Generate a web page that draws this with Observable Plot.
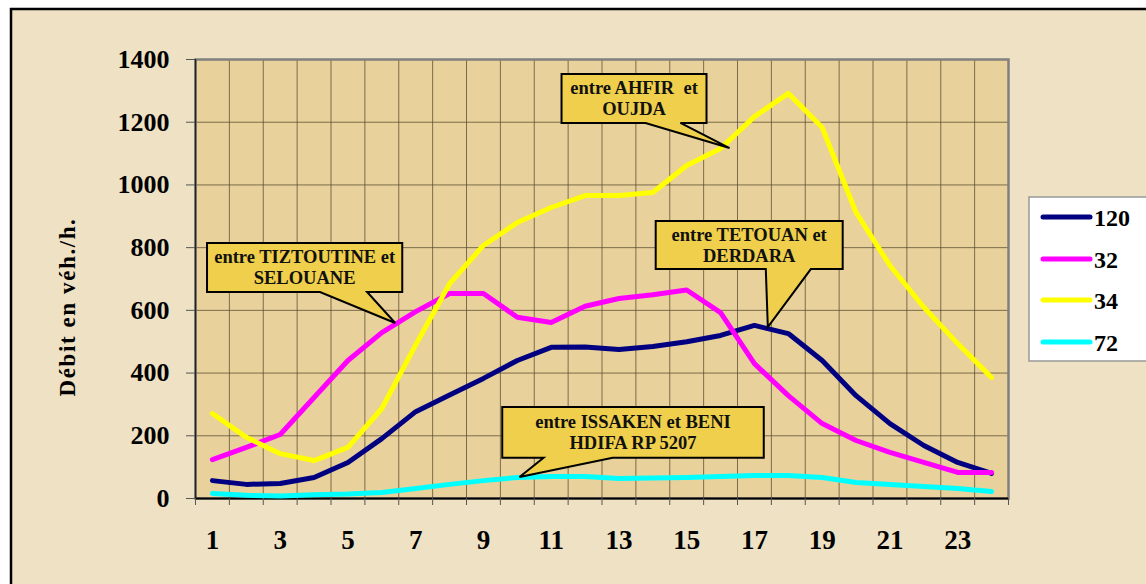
<!DOCTYPE html>
<html><head><meta charset="utf-8">
<script src="https://cdn.jsdelivr.net/npm/d3@7"></script>
<script src="https://cdn.jsdelivr.net/npm/@observablehq/plot@0.6"></script>
<style>
html,body{margin:0;padding:0;background:#fff;}
#chart svg{display:block;}
</style>
</head><body><div id="chart"></div>
<script>
// ---- data ----
const hours = [1,2,3,4,5,6,7,8,9,10,11,12,13,14,15,16,17,18,19,20,21,22,23,24];
const seriesNames = ["120","32","34","72"];
const seriesColors = ["#000080","#FF00FF","#FFFF00","#00FFFF"];
const v120 = [57,45,48,67,115,191,277,330,383,440,482,483,475,485,500,520,552,526,440,328,239,169,115,80];
const v32  = [124,163,204,322,440,529,596,654,654,578,561,613,638,650,665,593,430,328,239,185,147,115,83,83];
const v34  = [271,195,143,121,163,287,490,685,807,880,928,966,966,976,1062,1116,1218,1292,1183,912,743,610,494,386];
const v72  = [16,10,8,12,14,19,32,45,57,67,70,70,64,65,67,70,73,73,67,51,45,38,32,22];
const yTicks = [0,200,400,600,800,1000,1200,1400];
const xTickLabels = [1,3,5,7,9,11,13,15,17,19,21,23];
const yTitle = "Débit en véh./h.";
const calloutTexts = [
  ["entre TIZTOUTINE et","SELOUANE"],
  ["entre AHFIR  et","OUJDA"],
  ["entre TETOUAN et","DERDARA"],
  ["entre ISSAKEN et BENI","HDIFA RP 5207"]
];

// ---- build table ----
const allValues = [v120, v32, v34, v72];
const data = seriesNames.flatMap((s, j) => hours.map((h, i) => ({hour: h, value: allValues[j][i], series: s})));
const boundaries = [...hours.map(h => h - 0.5), hours[hours.length - 1] + 0.5];

const W = 1146, H = 584;
const serif = "'Liberation Serif','Times New Roman',serif";
const gridColor = "#55492f";

const plot = Plot.plot({
  width: W, height: H,
  marginLeft: 195, marginRight: 138, marginTop: 59, marginBottom: 86,
  x: {domain: [0.5, 24.5], axis: null},
  y: {domain: [0, 1400], axis: null},
  color: {domain: seriesNames, range: seriesColors},
  style: {background: "transparent", fontFamily: serif, color: "#000"},
  marks: [
    Plot.frame({fill: "#E8D19B", stroke: null}),
    Plot.ruleX(boundaries.slice(1, -1), {stroke: gridColor, strokeOpacity: 0.75, strokeWidth: 1}),
    Plot.ruleY(yTicks.slice(1, -1), {stroke: gridColor, strokeOpacity: 0.75, strokeWidth: 1}),
    Plot.frame({stroke: "#808080", strokeWidth: 2.5}),
    Plot.ruleX([0.5], {stroke: "#222", strokeWidth: 1.5}),
    Plot.ruleY([0], {stroke: "#000", strokeWidth: 2}),
    Plot.axisY(yTicks, {tickSize: 9, tickPadding: 17, fontSize: 26, fontWeight: "bold", tickFormat: d => String(d), label: null, stroke: "#555", fill: "#000"}),
    Plot.axisX(boundaries, {tickSize: 7, tickFormat: () => "", label: null, stroke: "#555"}),
    Plot.axisX(xTickLabels, {tickSize: 0, tickPadding: 31, fontSize: 27, fontWeight: "bold", tickFormat: d => String(d), label: null, fill: "#000"}),
    Plot.line(data, {x: "hour", y: "value", z: "series", stroke: "series", strokeWidth: 5, strokeLinejoin: "round", strokeLinecap: "round"})
  ]
});

document.getElementById("chart").appendChild(plot);
const svg = d3.select(plot);
const xs = plot.scale("x"), ys = plot.scale("y");
const X = v => xs.apply(v), Y = v => ys.apply(v);

// outer background + border
const bg = svg.insert("g", ":first-child");
bg.append("rect").attr("x", 11).attr("y", 9).attr("width", W).attr("height", H).attr("fill", "#EFE1C3");
bg.append("line").attr("x1", 10).attr("x2", W).attr("y1", 9).attr("y2", 9).attr("stroke", "#000").attr("stroke-width", 2.5);
bg.append("line").attr("x1", 11).attr("x2", 11).attr("y1", 8).attr("y2", H).attr("stroke", "#000").attr("stroke-width", 2.5);

// y title
svg.append("text")
  .attr("transform", `translate(75,307) rotate(-90)`)
  .attr("text-anchor", "middle")
  .attr("font-family", serif).attr("font-weight", "bold").attr("font-size", 23)
  .attr("letter-spacing", "1.6px")
  .attr("fill", "#000")
  .text(yTitle);

// callouts (anchored in data coordinates)
const calloutGeom = [
  {x1: 0.855, x2: 6.618, yTop: 813, yBot: 657, b1: 4.19, b2: 5.58, tx: 6.41, ty: 558},
  {x1: 11.32, x2: 15.60, yTop: 1352, yBot: 1196, b1: 13.80, b2: 14.83, tx: 16.28, ty: 1116},
  {x1: 14.10, x2: 19.62, yTop: 883, yBot: 730, b1: 17.35, b2: 18.68, tx: 17.41, ty: 545},
  {x1: 9.57, x2: 17.29, yTop: 290, yBot: 128, b1: 10.79, b2: 12.83, tx: 10.08, ty: 67}
];
const cg = svg.append("g");
calloutGeom.forEach((c, i) => {
  const l = X(c.x1), r = X(c.x2), t = Y(c.yTop), b = Y(c.yBot);
  const p = `M${l},${t}H${r}V${b}H${X(c.b2)}L${X(c.tx)},${Y(c.ty)}L${X(c.b1)},${b}H${l}Z`;
  cg.append("path").attr("d", p).attr("fill", "#EFCF4B").attr("stroke", "#000").attr("stroke-width", 2).attr("stroke-linejoin", "miter");
  const cx = (l + r) / 2, cy = (t + b) / 2;
  calloutTexts[i].forEach((line, k) => {
    cg.append("text")
      .attr("x", cx).attr("y", cy + (k === 0 ? -10.5 : 10.5))
      .attr("text-anchor", "middle").attr("dominant-baseline", "central")
      .attr("font-family", serif).attr("font-weight", "bold").attr("font-size", 18.5)
      .attr("fill", "#111")
      .style("white-space", "pre")
      .text(line);
  });
});

// legend
const lg = svg.append("g");
lg.append("rect").attr("x", 1029).attr("y", 197).attr("width", 130).attr("height", 164)
  .attr("fill", "#fff").attr("stroke", "#999").attr("stroke-width", 1.5);
const rowY = [217, 259, 300, 342];
seriesNames.forEach((s, i) => {
  lg.append("line").attr("x1", 1043).attr("x2", 1090).attr("y1", rowY[i]).attr("y2", rowY[i])
    .attr("stroke", seriesColors[i]).attr("stroke-width", 5).attr("stroke-linecap", "round");
  lg.append("text").attr("x", 1094).attr("y", rowY[i] + 1)
    .attr("text-anchor", "start")
    .attr("dominant-baseline", "central")
    .attr("font-family", serif).attr("font-weight", "bold").attr("font-size", 24)
    .attr("fill", "#000").text(s);
});
</script>
</body></html>
